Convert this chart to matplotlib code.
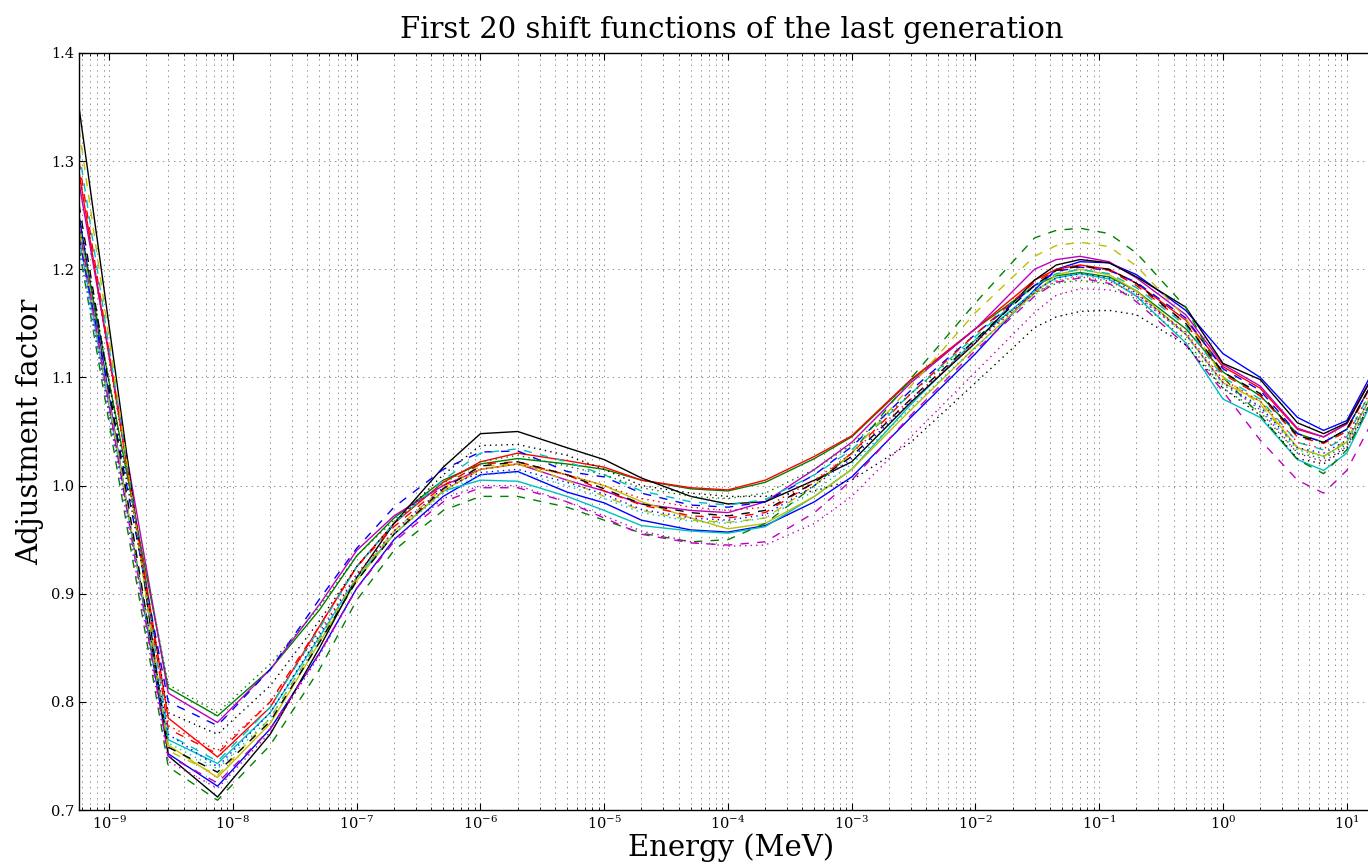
import numpy as np
import matplotlib

matplotlib.use("Agg")
import matplotlib.pyplot as plt
from matplotlib.ticker import FixedLocator, LogLocator, FormatStrFormatter, NullFormatter

# energy grid (MeV) where the shift functions are tabulated
energy = [5.7e-10, 3e-9, 7.5e-9, 2e-8, 5e-8, 1e-7, 2e-7, 5e-7, 1e-6, 2e-6,
          5e-6, 1e-5, 2e-5, 5e-5, 1e-4, 2e-4, 5e-4, 1e-3, 3e-3, 1e-2,
          3e-2, 4.5e-2, 7e-2, 1.2e-1, 2e-1, 5e-1, 1.0, 2.0, 4.0, 6.5, 10.0, 20.0]

# solid curves
b_solid = [1.25, 0.752, 0.722, 0.775, 0.845, 0.905, 0.950, 0.990, 1.010, 1.013,
           0.994, 0.984, 0.968, 0.959, 0.957, 0.963, 0.985, 1.008, 1.063, 1.122,
           1.181, 1.200, 1.207, 1.206, 1.195, 1.162, 1.122, 1.100, 1.063, 1.051, 1.060, 1.125]
g_solid = [1.24, 0.813, 0.787, 0.830, 0.885, 0.935, 0.970, 1.005, 1.020, 1.025,
           1.020, 1.015, 1.005, 0.997, 0.995, 1.003, 1.025, 1.045, 1.097, 1.145,
           1.185, 1.194, 1.197, 1.193, 1.180, 1.145, 1.105, 1.083, 1.048, 1.040, 1.052, 1.115]
r_solid = [1.29, 0.785, 0.749, 0.795, 0.870, 0.925, 0.965, 1.003, 1.022, 1.030,
           1.023, 1.017, 1.005, 0.998, 0.996, 1.005, 1.027, 1.046, 1.098, 1.145,
           1.190, 1.200, 1.204, 1.200, 1.187, 1.153, 1.110, 1.090, 1.052, 1.045, 1.057, 1.120]
c_solid = [1.23, 0.765, 0.743, 0.790, 0.860, 0.915, 0.955, 0.995, 1.005, 1.004,
           0.990, 0.977, 0.963, 0.958, 0.956, 0.962, 0.990, 1.015, 1.075, 1.135,
           1.180, 1.192, 1.196, 1.191, 1.175, 1.132, 1.080, 1.063, 1.024, 1.014, 1.030, 1.100]
m_solid = [1.28, 0.808, 0.781, 0.830, 0.890, 0.940, 0.972, 1.000, 1.015, 1.020,
           1.005, 0.995, 0.983, 0.977, 0.975, 0.985, 1.015, 1.040, 1.095, 1.145,
           1.200, 1.209, 1.212, 1.207, 1.192, 1.158, 1.112, 1.092, 1.053, 1.045, 1.057, 1.120]
y_solid = [1.24, 0.760, 0.730, 0.780, 0.855, 0.912, 0.955, 0.995, 1.015, 1.020,
           1.010, 1.000, 0.985, 0.970, 0.960, 0.965, 0.990, 1.015, 1.070, 1.128,
           1.178, 1.195, 1.200, 1.195, 1.180, 1.140, 1.095, 1.078, 1.035, 1.027, 1.040, 1.105]
k_solid = [1.35, 0.750, 0.712, 0.770, 0.850, 0.915, 0.965, 1.017, 1.048, 1.050,
           1.035, 1.024, 1.007, 0.990, 0.983, 0.985, 1.005, 1.022, 1.077, 1.132,
           1.190, 1.204, 1.209, 1.206, 1.193, 1.165, 1.113, 1.098, 1.058, 1.048, 1.058, 1.120]

# dashed curves
b_dash = [1.23, 0.800, 0.778, 0.830, 0.895, 0.942, 0.980, 1.015, 1.031, 1.032,
          1.013, 1.008, 0.993, 0.982, 0.980, 0.985, 1.010, 1.036, 1.088, 1.140,
          1.185, 1.198, 1.202, 1.199, 1.188, 1.155, 1.108, 1.088, 1.048, 1.040, 1.052, 1.115]
g_dash = [1.22, 0.740, 0.709, 0.760, 0.830, 0.894, 0.940, 0.977, 0.990, 0.990,
          0.980, 0.968, 0.956, 0.948, 0.950, 0.965, 1.000, 1.030, 1.099, 1.169,
          1.229, 1.236, 1.238, 1.233, 1.215, 1.165, 1.100, 1.065, 1.024, 1.011, 1.033, 1.100]
r_dash = [1.30, 0.775, 0.752, 0.800, 0.870, 0.925, 0.962, 1.000, 1.020, 1.022,
          1.010, 0.995, 0.982, 0.972, 0.970, 0.975, 1.003, 1.030, 1.085, 1.140,
          1.188, 1.199, 1.203, 1.199, 1.185, 1.150, 1.103, 1.083, 1.045, 1.039, 1.050, 1.115]
c_dash = [1.31, 0.770, 0.745, 0.795, 0.868, 0.925, 0.965, 1.005, 1.030, 1.034,
          1.022, 1.010, 0.995, 0.985, 0.982, 0.987, 1.010, 1.033, 1.085, 1.138,
          1.185, 1.196, 1.200, 1.196, 1.183, 1.148, 1.100, 1.080, 1.040, 1.033, 1.045, 1.110]
m_dash = [1.24, 0.750, 0.725, 0.775, 0.845, 0.905, 0.948, 0.985, 0.998, 0.998,
          0.985, 0.970, 0.955, 0.947, 0.945, 0.948, 0.975, 1.005, 1.065, 1.125,
          1.175, 1.188, 1.192, 1.187, 1.170, 1.130, 1.087, 1.042, 1.005, 0.993, 1.014, 1.080]
y_dash = [1.33, 0.755, 0.732, 0.785, 0.858, 0.915, 0.958, 0.998, 1.018, 1.020,
          1.005, 0.990, 0.977, 0.968, 0.966, 0.970, 1.000, 1.030, 1.092, 1.160,
          1.212, 1.222, 1.225, 1.221, 1.203, 1.155, 1.100, 1.075, 1.035, 1.027, 1.042, 1.105]
k_dash = [1.26, 0.758, 0.735, 0.782, 0.855, 0.912, 0.955, 0.997, 1.018, 1.022,
          1.010, 0.997, 0.983, 0.975, 0.972, 0.977, 1.003, 1.027, 1.080, 1.135,
          1.185, 1.199, 1.203, 1.200, 1.187, 1.150, 1.105, 1.085, 1.046, 1.040, 1.052, 1.115]

# dotted curves
b_dot = [1.22, 0.770, 0.740, 0.790, 0.862, 0.918, 0.958, 0.998, 1.012, 1.015,
         1.003, 0.992, 0.978, 0.970, 0.968, 0.973, 1.000, 1.025, 1.078, 1.133,
         1.180, 1.192, 1.196, 1.192, 1.178, 1.140, 1.095, 1.073, 1.035, 1.030, 1.042, 1.105]
g_dot = [1.24, 0.816, 0.790, 0.835, 0.888, 0.935, 0.968, 1.002, 1.022, 1.028,
         1.018, 1.010, 0.998, 0.990, 0.988, 0.993, 1.015, 1.038, 1.085, 1.135,
         1.178, 1.187, 1.190, 1.186, 1.172, 1.135, 1.090, 1.068, 1.030, 1.025, 1.038, 1.100]
r_dot = [1.29, 0.778, 0.755, 0.800, 0.865, 0.918, 0.958, 0.995, 1.015, 1.020,
         1.010, 1.000, 0.988, 0.980, 0.977, 0.980, 1.005, 1.030, 1.080, 1.132,
         1.178, 1.189, 1.193, 1.189, 1.177, 1.142, 1.098, 1.078, 1.040, 1.034, 1.046, 1.110]
c_dot = [1.22, 0.762, 0.738, 0.785, 0.858, 0.915, 0.955, 0.993, 1.010, 1.012,
         1.000, 0.988, 0.975, 0.967, 0.965, 0.970, 0.995, 1.020, 1.072, 1.128,
         1.176, 1.190, 1.194, 1.190, 1.176, 1.140, 1.093, 1.072, 1.033, 1.027, 1.040, 1.105]
m_dot = [1.23, 0.745, 0.720, 0.772, 0.843, 0.905, 0.950, 0.988, 1.000, 1.000,
         0.985, 0.972, 0.958, 0.948, 0.944, 0.945, 0.965, 0.990, 1.045, 1.105,
         1.160, 1.176, 1.182, 1.181, 1.175, 1.140, 1.095, 1.070, 1.030, 1.022, 1.036, 1.100]
k_dot = [1.25, 0.790, 0.770, 0.815, 0.875, 0.925, 0.965, 1.010, 1.037, 1.038,
         1.028, 1.015, 1.000, 0.993, 0.990, 0.990, 0.995, 1.005, 1.040, 1.095,
         1.146, 1.156, 1.161, 1.162, 1.158, 1.130, 1.090, 1.065, 1.025, 1.020, 1.035, 1.100]

curves = [
    (b_solid, "b", "-"), (g_solid, "g", "-"), (r_solid, "r", "-"),
    (c_solid, "c", "-"), (m_solid, "m", "-"), (y_solid, "y", "-"),
    (k_solid, "k", "-"),
    (b_dash, "b", "--"), (g_dash, "g", "--"), (r_dash, "r", "--"),
    (c_dash, "c", "--"), (m_dash, "m", "--"), (y_dash, "y", "--"),
    (k_dash, "k", "--"),
    (b_dot, "b", ":"), (g_dot, "g", ":"), (r_dot, "r", ":"),
    (c_dot, "c", ":"), (m_dot, "m", ":"), (k_dot, "k", ":"),
]

# old-style matplotlib colours
classic = {"b": (0, 0, 1), "g": (0, 0.5, 0), "r": (1, 0, 0),
           "c": (0, 0.75, 0.75), "m": (0.75, 0, 0.75),
           "y": (0.75, 0.75, 0), "k": (0, 0, 0)}

decades = [10.0 ** p for p in range(-9, 2)]

plt.rcParams["font.family"] = "DejaVu Serif"
plt.rcParams["mathtext.fontset"] = "dejavuserif"
plt.rcParams["lines.scale_dashes"] = False
plt.rcParams["lines.dashed_pattern"] = [6, 6]
plt.rcParams["lines.dotted_pattern"] = [1, 3]

fig = plt.figure(figsize=(13.68, 8.67), dpi=100)
W, H = 1368.0, 867.0
ax = fig.add_axes([79 / W, 57 / H, (1384 - 79) / W, 757 / H])

for vals, col, ls in curves:
    ax.plot(energy, vals, color=classic[col], linestyle=ls, linewidth=1.0)

ax.set_xscale("log")
ax.set_xlim(5.7e-10, 20)
ax.set_ylim(0.7, 1.4)
ax.set_yticks(np.arange(0.7, 1.41, 0.1))
ax.yaxis.set_major_formatter(FormatStrFormatter("%.1f"))
ax.xaxis.set_major_locator(FixedLocator(decades))
ax.xaxis.set_minor_locator(LogLocator(base=10, subs=np.arange(2, 10), numticks=200))
ax.xaxis.set_minor_formatter(NullFormatter())

ax.grid(True, which="major", color="0.55", linestyle=":", linewidth=0.7)
ax.grid(True, which="minor", axis="x", color="0.55", linestyle=":", linewidth=0.7)
ax.tick_params(which="both", direction="in", top=True, right=True, labelsize=10.5)
ax.tick_params(which="major", length=5)
ax.tick_params(which="minor", length=2.5)
for sp in ax.spines.values():
    sp.set_linewidth(1.0)

ax.set_title("First 20 shift functions of the last generation", fontsize=21, pad=11)
ax.set_xlabel("Energy (MeV)", fontsize=21, labelpad=1)
ax.set_ylabel("Adjustment factor", fontsize=21, labelpad=5)

fig.savefig("out.png", dpi=100)
